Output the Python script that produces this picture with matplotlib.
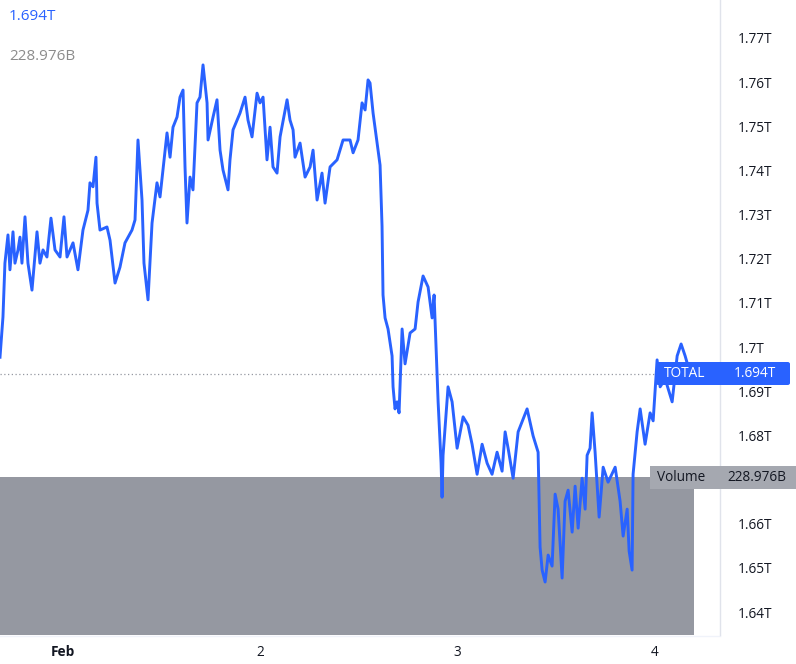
import matplotlib
matplotlib.use("Agg")
import matplotlib.pyplot as plt
from matplotlib.patches import FancyBboxPatch, Circle

plt.rcParams['font.family'] = ['Open Sans', 'DejaVu Sans']

# hours since Feb 1 00:00
hours = [-7.66, -7.30, -7.06, -6.69, -6.45, -6.08, -5.84, -5.47, -5.23, -4.99,
         -4.62, -4.26, -3.77, -3.16, -2.80, -2.43, -1.95, -1.46, -0.97, -0.36,
         0.12, 0.49, 1.22, 1.82, 2.43, 3.04, 3.28, 3.65, 4.01, 4.14,
         4.50, 5.35, 5.72, 6.33, 6.93, 7.54, 8.39, 8.76, 9.12, 9.61,
         9.85, 10.34, 10.83, 11.43, 11.80, 12.65, 13.02, 13.38, 13.87, 14.23,
         14.60, 14.84, 15.08, 15.45, 15.81, 16.30, 16.66, 17.03, 17.52, 17.64,
         18.25, 18.73, 19.10, 19.46, 20.07, 20.31, 20.68, 21.53, 22.14, 22.50,
         22.99, 23.60, 23.96, 24.33, 24.81, 25.18, 25.54, 26.03, 26.40, 27.25,
         27.61, 27.98, 28.22, 28.83, 29.44, 30.05, 30.41, 30.90, 31.50, 31.87,
         32.48, 33.33, 34.06, 34.91, 35.28, 35.88, 36.37, 36.74, 37.10, 37.34,
         37.71, 38.19, 38.56, 38.80, 38.92, 39.17, 39.53, 40.02, 40.14, 40.38,
         40.63, 40.87, 41.24, 41.60, 42.21, 42.82, 43.18, 43.79, 44.40, 44.89,
         45.13, 45.37, 45.62, 45.98, 46.10, 46.22, 46.83, 47.32, 47.93, 48.66,
         49.26, 49.75, 50.36, 50.97, 51.58, 52.18, 52.79, 53.40, 53.77, 54.13,
         54.74, 55.35, 56.44, 57.17, 57.78, 58.02, 58.27, 58.63, 59.00, 59.48,
         59.85, 60.21, 60.70, 61.06, 61.43, 61.92, 62.28, 62.65, 63.13, 63.50,
         63.74, 64.10, 64.35, 64.71, 65.20, 65.69, 66.29, 67.15, 67.75, 68.12,
         68.61, 68.85, 69.21, 69.33, 69.82, 70.19, 70.79, 71.40, 71.77, 72.25,
         72.62, 73.23, 74.08, 74.69, 75.17, 75.66, 76.27]

# TOTAL market cap, billions USD
total_b = [1697.7, 1706.8, 1719.0, 1725.4, 1717.5, 1726.1, 1719.0, 1722.0, 1724.9, 1719.0,
           1729.5, 1719.0, 1712.9, 1726.1, 1719.0, 1722.0, 1720.4, 1729.2, 1722.0, 1720.4,
           1729.5, 1720.4, 1723.6, 1717.5, 1726.5, 1731.0, 1737.2, 1736.3, 1743.0, 1732.6,
           1726.5, 1727.2, 1724.2, 1714.5, 1718.1, 1723.6, 1726.5, 1728.8, 1746.9, 1733.3,
           1719.0, 1710.7, 1728.1, 1737.2, 1734.0, 1748.5, 1743.0, 1749.8, 1752.1, 1756.6,
           1758.2, 1740.8, 1728.1, 1738.5, 1735.6, 1755.3, 1756.6, 1763.9, 1755.3, 1746.9,
           1752.1, 1756.0, 1744.6, 1740.1, 1735.6, 1742.4, 1749.2, 1753.0, 1756.6, 1751.4,
           1747.6, 1757.5, 1755.3, 1756.6, 1742.4, 1749.8, 1740.8, 1739.4, 1747.6, 1756.0,
           1751.4, 1749.2, 1743.0, 1746.2, 1738.5, 1740.8, 1744.6, 1733.3, 1739.4, 1732.6,
           1740.8, 1742.4, 1746.9, 1746.9, 1744.0, 1746.9, 1755.3, 1753.7, 1760.5, 1759.8,
           1753.0, 1746.4, 1741.2, 1727.4, 1711.8, 1706.6, 1704.1, 1698.0, 1691.0, 1686.0,
           1687.6, 1685.1, 1704.1, 1696.2, 1703.2, 1704.1, 1710.2, 1716.1, 1713.6, 1706.6,
           1711.8, 1699.8, 1687.6, 1673.7, 1666.0, 1675.5, 1691.0, 1687.6, 1677.1, 1684.2,
           1682.3, 1678.0, 1671.2, 1678.0, 1673.7, 1671.2, 1676.2, 1671.9, 1680.8, 1677.1,
           1670.3, 1680.8, 1686.0, 1679.9, 1676.2, 1654.7, 1649.5, 1646.8, 1652.9, 1650.4,
           1666.7, 1663.3, 1647.7, 1665.1, 1667.6, 1658.1, 1668.5, 1659.0, 1670.3, 1663.3,
           1675.5, 1677.1, 1685.1, 1676.2, 1661.5, 1672.8, 1669.4, 1672.8, 1665.1, 1657.2,
           1663.3, 1653.8, 1649.5, 1671.2, 1680.8, 1686.0, 1678.0, 1685.1, 1683.3, 1697.1,
           1691.0, 1692.8, 1687.6, 1698.0, 1700.7, 1698.0, 1694.0]

last_total = 1694.0      # billions
volume_b = 228.976       # billions

# 1.67T is hidden behind the Volume label in the reference
y_ticks = [1640, 1650, 1660, 1680, 1690, 1700, 1710, 1720, 1730, 1740, 1750, 1760, 1770]
x_ticks = [0, 24, 48, 72]
x_labels = ["Feb", "2", "3", "4"]

BLUE = "#2962ff"
W, H = 796, 664
fig = plt.figure(figsize=(W / 100, H / 100), dpi=100)
ax = fig.add_axes([0, 1 - 635 / H, 720 / W, 635 / H])
ax.set_xlim(-7.66, 79.9)
ax.set_ylim(1634.8, 1778.6)

# volume bar on its own scale
axv = ax.twinx()
axv.set_ylim(0, volume_b / 0.249)
axv.bar([(hours[0] + hours[-1] + 0.5) / 2], [volume_b], width=(hours[-1] + 0.5 - hours[0]),
        color="#9598a1", zorder=1)
axv.set_axis_off()
axv.set_zorder(1)
ax.set_zorder(2)
ax.patch.set_visible(False)

ax.plot(hours, total_b, color=BLUE, lw=2.1, solid_joinstyle='round', zorder=3)
ax.axhline(last_total, color="#9598a1", lw=0.9, ls=(0, (1, 2)), zorder=2)

# cursor ring
ax.add_patch(Circle((76.7, last_total), radius=1.0, transform=ax.transData,
                    fill=False, ec="#b7c6f0", lw=1))

for s in ["top", "left", "bottom"]:
    ax.spines[s].set_visible(False)
ax.spines["right"].set_color("#e0e3eb")
ax.spines["right"].set_linewidth(1)

ax.yaxis.tick_right()
ax.set_yticks(y_ticks)
ax.set_yticklabels([f"{v/1000:.2f}".rstrip("0") + "T" for v in y_ticks])
ax.tick_params(axis="y", length=0, pad=13, labelsize=9.8, labelcolor="#131722")
ax.set_xticks(x_ticks)
ax.set_xticklabels(x_labels)
ax.tick_params(axis="x", length=0, pad=7, labelsize=9.8, labelcolor="#131722")
for lbl in ax.get_xticklabels():
    if lbl.get_text() == "Feb":
        lbl.set_fontweight("bold")

# bottom separator line
fig.add_artist(plt.Line2D([0, 720 / W], [1 - 636 / H] * 2, color="#f0f3fa", lw=1))

# TOTAL label
fig.add_artist(FancyBboxPatch((656 / W, 1 - 385 / H), 134 / W, 23 / H,
                              boxstyle="round,pad=0,rounding_size=0.003",
                              fc=BLUE, ec="none", transform=fig.transFigure, zorder=5))
fig.text(664 / W, 1 - 373.5 / H, "TOTAL", color="white", fontsize=9.8, va="center", zorder=6)
fig.text(734 / W, 1 - 373.5 / H, f"{last_total/1000:.3f}T", color="white", fontsize=9.8,
         va="center", zorder=6)

# Volume label
fig.add_artist(FancyBboxPatch((650 / W, 1 - 489 / H), 146 / W, 23 / H,
                              boxstyle="square,pad=0", fc="#a5a8b0", ec="none",
                              transform=fig.transFigure, zorder=5))
fig.text(657 / W, 1 - 477.5 / H, "Volume", color="#131722", fontsize=9.8, va="center", zorder=6)
fig.text(727 / W, 1 - 477.5 / H, f"{volume_b:.3f}B", color="#131722", fontsize=9.8,
         va="center", zorder=6)

# header legend values
fig.text(9 / W, 1 - 17 / H, f"{last_total/1000:.3f}T", color=BLUE, fontsize=11,
         va="center")
fig.text(9 / W, 1 - 57 / H, f"{volume_b:.3f}B", color="#8c8c8c", fontsize=11, va="center")

fig.savefig("out.png", dpi=100)
